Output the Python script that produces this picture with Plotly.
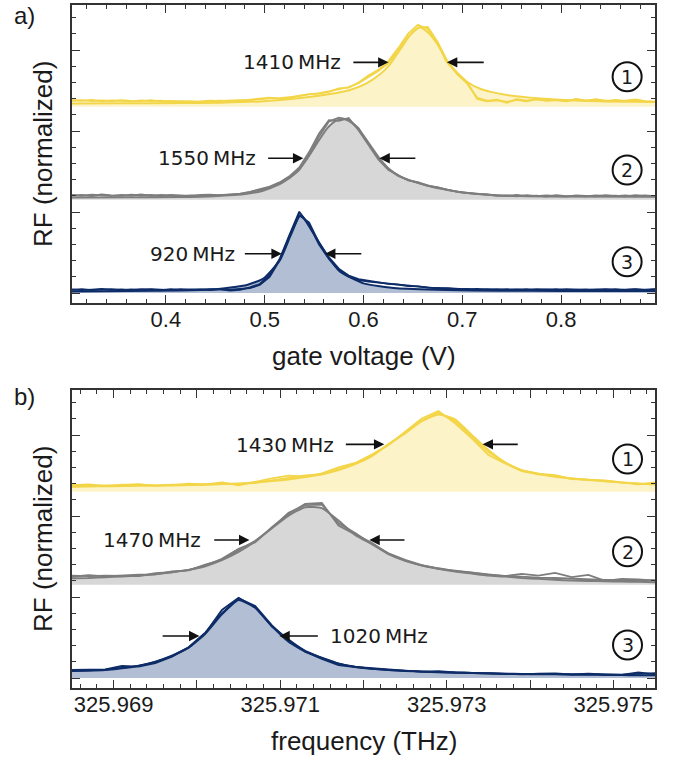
import plotly.graph_objects as go

# ---------------- panel a data (gate voltage sweeps) ----------------
GATE_V = [0.305, 0.315, 0.325, 0.335, 0.345, 0.355, 0.365, 0.375, 0.385, 0.395,
          0.405, 0.415, 0.425, 0.435, 0.445, 0.455, 0.465, 0.475, 0.485, 0.495,
          0.505, 0.515, 0.525, 0.535, 0.545, 0.555, 0.565, 0.575, 0.585, 0.595,
          0.605, 0.615, 0.625, 0.635, 0.645, 0.655, 0.665, 0.675, 0.685, 0.695,
          0.705, 0.715, 0.725, 0.735, 0.745, 0.755, 0.765, 0.775, 0.785, 0.795,
          0.805, 0.815, 0.825, 0.835, 0.845, 0.855, 0.865, 0.875, 0.885, 0.895]

YA_D1 = [0.080, 0.072, 0.085, 0.068, 0.079, 0.074, 0.066, 0.078, 0.070, 0.075,
         0.064, 0.070, 0.060, 0.066, 0.074, 0.068, 0.078, 0.074, 0.088, 0.096,
         0.112, 0.100, 0.110, 0.138, 0.150, 0.168, 0.190, 0.220, 0.242, 0.290,
         0.370, 0.440, 0.535, 0.690, 0.865, 0.975, 0.985, 0.800, 0.560, 0.415,
         0.300, 0.095, 0.066, 0.086, 0.048, 0.092, 0.074, 0.090, 0.072, 0.085,
         0.066, 0.095, 0.078, 0.086, 0.066, 0.085, 0.070, 0.084, 0.066, 0.060]
YA_D2 = [0.074, 0.082, 0.070, 0.078, 0.068, 0.080, 0.072, 0.070, 0.080, 0.066,
         0.072, 0.062, 0.068, 0.058, 0.070, 0.076, 0.068, 0.082, 0.080, 0.092,
         0.104, 0.106, 0.118, 0.130, 0.156, 0.162, 0.184, 0.226, 0.236, 0.300,
         0.385, 0.455, 0.560, 0.720, 0.900, 1.010, 0.960, 0.770, 0.545, 0.400,
         0.285, 0.110, 0.074, 0.080, 0.060, 0.084, 0.068, 0.094, 0.078, 0.080,
         0.072, 0.088, 0.070, 0.092, 0.074, 0.078, 0.076, 0.090, 0.070, 0.064]
YA_FIT_X = [0.305, 0.350, 0.414, 0.455, 0.495, 0.536, 0.566, 0.587, 0.603, 0.617,
            0.627, 0.637, 0.647, 0.657, 0.667, 0.678, 0.684, 0.695, 0.705, 0.718,
            0.730, 0.745, 0.779, 0.813, 0.847, 0.895]
YA_FIT = [0.040, 0.042, 0.045, 0.050, 0.066, 0.107, 0.156, 0.210, 0.288, 0.403,
          0.527, 0.704, 0.881, 0.985, 0.897, 0.716, 0.560, 0.416, 0.305, 0.222,
          0.180, 0.145, 0.103, 0.078, 0.066, 0.058]

GA_D1 = [0.060, 0.050, 0.064, 0.055, 0.048, 0.062, 0.052, 0.066, 0.050, 0.060,
         0.054, 0.044, 0.056, 0.050, 0.054, 0.060, 0.064, 0.070, 0.095, 0.125,
         0.150, 0.200, 0.267, 0.370, 0.556, 0.782, 0.967, 1.015, 0.990, 0.885,
         0.700, 0.514, 0.379, 0.296, 0.247, 0.214, 0.173, 0.156, 0.123, 0.103,
         0.082, 0.074, 0.062, 0.055, 0.048, 0.060, 0.045, 0.052, 0.040, 0.058,
         0.046, 0.050, 0.042, 0.056, 0.048, 0.052, 0.044, 0.058, 0.048, 0.050]
GA_D2 = [0.052, 0.062, 0.048, 0.066, 0.056, 0.050, 0.064, 0.054, 0.060, 0.048,
         0.062, 0.054, 0.048, 0.060, 0.064, 0.056, 0.068, 0.076, 0.100, 0.130,
         0.165, 0.215, 0.290, 0.400, 0.590, 0.820, 0.985, 0.975, 1.010, 0.860,
         0.680, 0.500, 0.370, 0.305, 0.240, 0.220, 0.180, 0.150, 0.128, 0.098,
         0.086, 0.070, 0.066, 0.050, 0.056, 0.044, 0.058, 0.046, 0.054, 0.050,
         0.040, 0.056, 0.048, 0.044, 0.058, 0.046, 0.054, 0.042, 0.056, 0.046]
GA_FIT_X = [0.305, 0.360, 0.414, 0.448, 0.482, 0.499, 0.516, 0.533, 0.543, 0.553,
            0.563, 0.571, 0.578, 0.585, 0.593, 0.603, 0.617, 0.627, 0.637, 0.651,
            0.668, 0.684, 0.701, 0.738, 0.800, 0.895]
GA_FIT = [0.030, 0.032, 0.035, 0.045, 0.075, 0.115, 0.200, 0.350, 0.510, 0.700,
          0.880, 0.970, 1.000, 0.975, 0.900, 0.740, 0.500, 0.370, 0.290, 0.225,
          0.165, 0.125, 0.090, 0.055, 0.042, 0.038]

NA_D1 = [0.045, 0.035, 0.042, 0.050, 0.038, 0.044, 0.036, 0.048, 0.040, 0.034,
         0.046, 0.038, 0.045, 0.040, 0.046, 0.044, 0.030, 0.040, 0.070, 0.111,
         0.222, 0.416, 0.716, 1.004, 0.840, 0.597, 0.420, 0.280, 0.202, 0.160,
         0.140, 0.128, 0.119, 0.099, 0.090, 0.078, 0.070, 0.058, 0.060, 0.049,
         0.044, 0.050, 0.040, 0.046, 0.038, 0.044, 0.036, 0.046, 0.040, 0.048,
         0.038, 0.042, 0.036, 0.044, 0.040, 0.048, 0.038, 0.044, 0.040, 0.046]
NA_D2 = [0.038, 0.046, 0.036, 0.042, 0.048, 0.036, 0.044, 0.038, 0.046, 0.042,
         0.036, 0.046, 0.038, 0.044, 0.036, 0.048, 0.042, 0.050, 0.060, 0.098,
         0.200, 0.400, 0.700, 0.960, 0.870, 0.620, 0.440, 0.300, 0.215, 0.172,
         0.150, 0.135, 0.112, 0.104, 0.085, 0.082, 0.066, 0.062, 0.052, 0.046,
         0.050, 0.040, 0.048, 0.038, 0.046, 0.040, 0.048, 0.038, 0.044, 0.036,
         0.046, 0.040, 0.044, 0.038, 0.046, 0.036, 0.042, 0.048, 0.036, 0.044]
NA_FIT_X = [0.305, 0.360, 0.414, 0.448, 0.482, 0.499, 0.5155, 0.5257, 0.5341, 0.5365,
            0.5392, 0.5493, 0.5629, 0.5763, 0.5999, 0.6338, 0.6844, 0.7384, 0.800, 0.895]
NA_FIT = [0.020, 0.025, 0.030, 0.045, 0.099, 0.181, 0.407, 0.695, 0.930, 0.960,
          0.930, 0.737, 0.470, 0.263, 0.119, 0.058, 0.037, 0.029, 0.026, 0.025]

# ---------------- panel b data (frequency sweeps) ----------------
FREQ = [325.9685, 325.9687, 325.9689, 325.9691, 325.9693, 325.9695, 325.9697, 325.9699,
        325.9701, 325.9703, 325.9705, 325.9707, 325.9709, 325.9711, 325.9713, 325.9715,
        325.9717, 325.9719, 325.9721, 325.9723, 325.9725, 325.9727, 325.9729, 325.9731,
        325.9733, 325.9735, 325.9737, 325.9739, 325.9741, 325.9743, 325.9745, 325.9747,
        325.9749, 325.9751, 325.9753, 325.9755]

YB_D1 = [0.082, 0.090, 0.070, 0.086, 0.086, 0.078, 0.082, 0.099, 0.090, 0.115,
         0.080, 0.123, 0.165, 0.198, 0.185, 0.226, 0.300, 0.355, 0.460, 0.576,
         0.741, 0.905, 0.996, 0.844, 0.658, 0.453, 0.350, 0.255, 0.214, 0.198,
         0.156, 0.148, 0.140, 0.115, 0.090, 0.115]
YB_D2 = [0.074, 0.080, 0.078, 0.078, 0.092, 0.072, 0.088, 0.085, 0.095, 0.100,
         0.095, 0.110, 0.140, 0.170, 0.200, 0.215, 0.280, 0.345, 0.445, 0.590,
         0.720, 0.880, 0.975, 0.870, 0.680, 0.490, 0.360, 0.262, 0.222, 0.204,
         0.160, 0.150, 0.128, 0.112, 0.100, 0.098]
YB_FIT = [0.062, 0.066, 0.068, 0.070, 0.074, 0.076, 0.078, 0.082, 0.086, 0.095,
          0.103, 0.115, 0.132, 0.152, 0.181, 0.214, 0.267, 0.342, 0.440, 0.584,
          0.728, 0.872, 0.955, 0.893, 0.700, 0.514, 0.362, 0.267, 0.222, 0.185,
          0.165, 0.144, 0.132, 0.115, 0.103, 0.090]

GB_D1 = [0.115, 0.107, 0.115, 0.111, 0.107, 0.144, 0.156, 0.185, 0.239, 0.321,
         0.444, 0.527, 0.712, 0.877, 1.000, 1.012, 0.733, 0.621, 0.519, 0.383,
         0.300, 0.239, 0.198, 0.177, 0.148, 0.128, 0.107, 0.136, 0.115, 0.148,
         0.095, 0.123, 0.049, 0.074, 0.066, 0.053]
GB_D2 = [0.100, 0.120, 0.104, 0.118, 0.125, 0.130, 0.165, 0.178, 0.250, 0.310,
         0.430, 0.545, 0.700, 0.890, 0.985, 0.990, 0.760, 0.640, 0.505, 0.390,
         0.310, 0.245, 0.205, 0.170, 0.152, 0.122, 0.112, 0.098, 0.090, 0.085,
         0.075, 0.070, 0.060, 0.062, 0.055, 0.058]
GB_FIT = [0.082, 0.086, 0.095, 0.103, 0.115, 0.132, 0.156, 0.185, 0.230, 0.305,
          0.407, 0.535, 0.700, 0.856, 0.959, 0.947, 0.794, 0.617, 0.502, 0.379,
          0.296, 0.239, 0.198, 0.165, 0.140, 0.115, 0.103, 0.086, 0.074, 0.062,
          0.053, 0.049, 0.045, 0.041, 0.037, 0.033]

NB_D1 = [0.099, 0.099, 0.107, 0.148, 0.140, 0.185, 0.263, 0.374, 0.551, 0.840,
         0.990, 0.872, 0.634, 0.477, 0.325, 0.235, 0.160, 0.136, 0.119, 0.099,
         0.090, 0.078, 0.086, 0.070, 0.066, 0.058, 0.053, 0.045, 0.053, 0.058,
         0.045, 0.053, 0.045, 0.037, 0.070, 0.045]
NB_D2 = [0.090, 0.095, 0.104, 0.125, 0.150, 0.195, 0.270, 0.380, 0.560, 0.800,
         0.985, 0.890, 0.650, 0.460, 0.335, 0.245, 0.175, 0.140, 0.112, 0.096,
         0.085, 0.082, 0.072, 0.068, 0.060, 0.060, 0.050, 0.050, 0.048, 0.050,
         0.042, 0.046, 0.040, 0.042, 0.050, 0.060]
NB_FIT = [0.086, 0.090, 0.099, 0.119, 0.152, 0.202, 0.276, 0.374, 0.547, 0.786,
          0.963, 0.868, 0.642, 0.449, 0.325, 0.251, 0.181, 0.136, 0.115, 0.099,
          0.086, 0.078, 0.070, 0.066, 0.062, 0.058, 0.053, 0.049, 0.045, 0.045,
          0.041, 0.041, 0.037, 0.037, 0.033, 0.033]

FREQ_TICKS = [325.969, 325.970, 325.971, 325.972, 325.973, 325.974, 325.975]
FREQ_TICKTEXT = ["325.969", "", "325.971", "", "325.973", "", "325.975"]

WIDTHS_A = ["1410\u2009MHz", "1550\u2009MHz", "920\u2009MHz"]
WIDTHS_B = ["1430\u2009MHz", "1470\u2009MHz", "1020\u2009MHz"]

# ---------------- styling ----------------
OFFSETS = [2.30, 1.15, 0.0]          # vertical stacking of the three traces
LINE_COLORS = ["#F3D548", "#7D7D7D", "#0D2C68"]
FILL_COLORS = ["#FCF3C8", "#D7D7D7", "#B1BED3"]
TXT = "#1a1a1a"
AX = "#333333"
SANS = "Liberation Sans, Arial, sans-serif"
DV = "DejaVu Sans, sans-serif"

fig = go.Figure()


def add_peak(xa, ya, x, d1, d2, fx, fy, off, lc, fc):
    kw = dict(xaxis=xa, yaxis=ya, hoverinfo="skip", showlegend=False)
    fig.add_trace(go.Scatter(x=[fx[0], fx[-1]], y=[off, off], mode="lines",
                             line=dict(width=0), **kw))
    fig.add_trace(go.Scatter(x=fx, y=[v + off for v in fy], mode="lines",
                             line=dict(width=0, shape="spline", smoothing=0.5),
                             fill="tonexty", fillcolor=fc, **kw))
    for d in (d1, d2):
        fig.add_trace(go.Scatter(x=x, y=[v + off for v in d], mode="lines",
                                 line=dict(color=lc, width=1.8), **kw))
    fig.add_trace(go.Scatter(x=fx, y=[v + off for v in fy], mode="lines",
                             line=dict(color=lc, width=2, shape="spline", smoothing=0.5), **kw))


peaks_a = [(YA_D1, YA_D2, YA_FIT_X, YA_FIT), (GA_D1, GA_D2, GA_FIT_X, GA_FIT),
           (NA_D1, NA_D2, NA_FIT_X, NA_FIT)]
for k, (d1, d2, fx, fy) in enumerate(peaks_a):
    add_peak("x", "y", GATE_V, d1, d2, fx, fy, OFFSETS[k], LINE_COLORS[k], FILL_COLORS[k])

peaks_b = [(YB_D1, YB_D2, YB_FIT), (GB_D1, GB_D2, GB_FIT), (NB_D1, NB_D2, NB_FIT)]
for k, (d1, d2, fy) in enumerate(peaks_b):
    add_peak("x2", "y2", FREQ, d1, d2, FREQ, fy, OFFSETS[k], LINE_COLORS[k], FILL_COLORS[k])

common_x = dict(showline=True, linecolor=AX, linewidth=1.5, mirror="allticks",
                ticks="inside", ticklen=8, tickwidth=1.3, tickcolor=AX,
                showgrid=False, zeroline=False,
                tickfont=dict(family=SANS, size=22, color=TXT),
                ticklabelstandoff=-4)
common_y = dict(showline=True, linecolor=AX, linewidth=1.5, mirror="allticks",
                ticks="inside", ticklen=8, tickwidth=1.3, tickcolor=AX,
                showgrid=False, zeroline=False, showticklabels=False,
                range=[-0.1235, 3.556], tick0=0, dtick=1,
                minor=dict(ticks="inside", ticklen=4, tickwidth=1.2, tickcolor=AX,
                           dtick=0.2, tick0=0, showgrid=False))

XD = [72 / 689, 655 / 689]
fig.update_layout(
    width=689, height=761, margin=dict(l=0, r=0, t=0, b=0),
    paper_bgcolor="white", plot_bgcolor="white", showlegend=False,
    xaxis=dict(domain=XD, anchor="y", range=[0.305, 0.895], tick0=0, dtick=0.1,
               tickformat=".1f",
               minor=dict(ticks="inside", ticklen=4, tickwidth=1.2, tickcolor=AX,
                          dtick=0.02, tick0=0, showgrid=False),
               **common_x),
    yaxis=dict(domain=[1 - 303 / 761, 1 - 5 / 761], anchor="x", **common_y),
    xaxis2=dict(domain=XD, anchor="y2", range=[325.9685, 325.9755],
                tickmode="array", tickvals=FREQ_TICKS, ticktext=FREQ_TICKTEXT,
                minor=dict(ticks="inside", ticklen=4, tickwidth=1.2, tickcolor=AX,
                           dtick=0.0002, tick0=325.969, showgrid=False),
                **common_x),
    yaxis2=dict(domain=[1 - 688 / 761, 1 - 390 / 761], anchor="x2", **common_y),
)

ann = []
shapes = []


def arrow(xr, yr, tail, head, y):
    ann.append(dict(x=head, y=y, ax=tail, ay=y, xref=xr, yref=yr, axref=xr, ayref=yr,
                    text="", showarrow=True, arrowhead=2, arrowsize=1.3, arrowwidth=1.6,
                    arrowcolor="#111111", standoff=0, startstandoff=0))


def label(xr, yr, x, y, text, anchor):
    ann.append(dict(x=x, y=y, xref=xr, yref=yr, text=text, showarrow=False,
                    xanchor=anchor, yanchor="middle",
                    font=dict(family=DV, size=20, color=TXT)))


def circled(xr, yr, x, y, n):
    shapes.append(dict(type="circle", xref=xr, yref=yr, xsizemode="pixel", ysizemode="pixel",
                       xanchor=x, yanchor=y, x0=-14.5, x1=14.5, y0=-14.5, y1=14.5,
                       line=dict(color="#111111", width=2)))
    ann.append(dict(x=x, y=y, xref=xr, yref=yr, text=str(n), showarrow=False,
                    xanchor="center", yanchor="middle",
                    font=dict(family=DV, size=19, color=TXT)))


# panel a annotations
label("x", "y", 0.579, 2.848, WIDTHS_A[0], "right")
arrow("x", "y", 0.5882, 0.6253, 2.848)
arrow("x", "y", 0.7232, 0.6844, 2.848)
label("x", "y", 0.4936, 1.663, WIDTHS_A[1], "right")
arrow("x", "y", 0.5020, 0.5391, 1.663)
arrow("x", "y", 0.6540, 0.6161, 1.663)
label("x", "y", 0.4717, 0.485, WIDTHS_A[2], "right")
arrow("x", "y", 0.4784, 0.5173, 0.485)
arrow("x", "y", 0.5993, 0.5611, 0.485)
for n, yy in zip((1, 2, 3), (2.67, 1.518, 0.386)):
    circled("x", "y", 0.8668, yy, n)

# panel b annotations
label("x2", "y2", 325.97167, 2.877, WIDTHS_B[0], "right")
arrow("x2", "y2", 325.97177, 325.97225, 2.885)
arrow("x2", "y2", 325.97387, 325.97343, 2.885)
label("x2", "y2", 325.97007, 1.704, WIDTHS_B[1], "right")
arrow("x2", "y2", 325.97019, 325.97063, 1.704)
arrow("x2", "y2", 325.97251, 325.97207, 1.704)
label("x2", "y2", 325.97157, 0.519, WIDTHS_B[2], "left")
arrow("x2", "y2", 325.96957, 325.97003, 0.519)
arrow("x2", "y2", 325.97147, 325.97099, 0.519)
for n, yy in zip((1, 2, 3), (2.704, 1.559, 0.407)):
    circled("x2", "y2", 325.97517, yy, n)

# titles and panel letters
tfont = dict(family=SANS, size=26, color=TXT)
ann += [
    dict(x=43 / 689, y=1 - 154 / 761, xref="paper", yref="paper", text="RF (normalized)",
         textangle=-90, showarrow=False, font=tfont, xanchor="center", yanchor="middle"),
    dict(x=43 / 689, y=1 - 539 / 761, xref="paper", yref="paper", text="RF (normalized)",
         textangle=-90, showarrow=False, font=tfont, xanchor="center", yanchor="middle"),
    dict(x=363.5 / 689, y=1 - 356 / 761, xref="paper", yref="paper", text="gate voltage (V)",
         showarrow=False, font=tfont, xanchor="center", yanchor="middle"),
    dict(x=363.5 / 689, y=1 - 741 / 761, xref="paper", yref="paper", text="frequency (THz)",
         showarrow=False, font=tfont, xanchor="center", yanchor="middle"),
    dict(x=24 / 689, y=1.0, xref="paper", yref="paper", text="a)",
         showarrow=False, font=dict(family=SANS, size=24, color=TXT),
         xanchor="center", yanchor="top"),
    dict(x=24 / 689, y=1 - 381 / 761, xref="paper", yref="paper", text="b)",
         showarrow=False, font=dict(family=SANS, size=24, color=TXT),
         xanchor="center", yanchor="top"),
]

fig.update_layout(annotations=ann, shapes=shapes)
fig.write_html("out.html")
